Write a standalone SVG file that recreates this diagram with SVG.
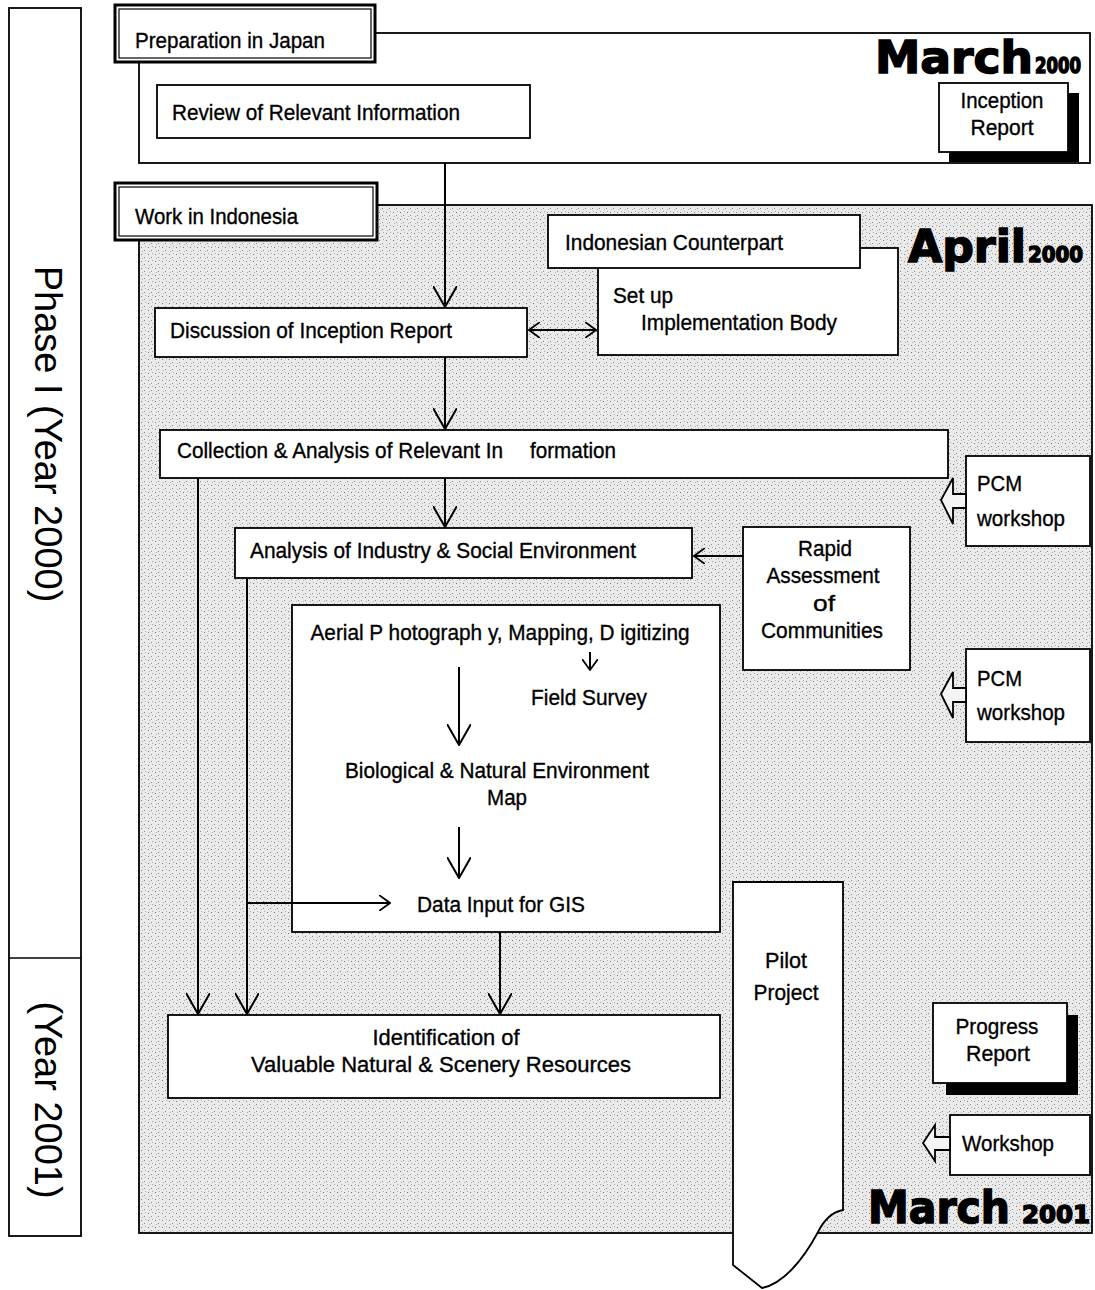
<svg xmlns="http://www.w3.org/2000/svg" width="1095" height="1290" viewBox="0 0 1095 1290">
<defs>
<pattern id="stip" width="7" height="7" patternUnits="userSpaceOnUse">
<rect width="7" height="7" fill="#eaeaea"/>
<rect x="1" y="2" width="1" height="1" fill="#7a7a7a"/>
<rect x="4" y="5" width="1" height="1" fill="#8a8a8a"/>
<rect x="5" y="1" width="1" height="1" fill="#a8a8a8"/>
<rect x="2" y="6" width="1" height="1" fill="#b0b0b0"/>
</pattern>
<marker id="vb" viewBox="0 0 22 24" refX="21" refY="12" markerWidth="22" markerHeight="24" markerUnits="userSpaceOnUse" orient="auto">
<path d="M0,0 L21,12 L0,24" fill="none" stroke="#000" stroke-width="2"/>
</marker>
<marker id="vs" viewBox="0 0 12 16" refX="11" refY="8" markerWidth="12" markerHeight="16" markerUnits="userSpaceOnUse" orient="auto-start-reverse">
<path d="M0,0 L11,8 L0,16" fill="none" stroke="#000" stroke-width="1.8"/>
</marker>
</defs>
<style>
.box{fill:#fff;stroke:#000;stroke-width:1.8}
.t{font-family:"Liberation Sans",Arial,sans-serif;font-size:22px;fill:#000;stroke:#000;stroke-width:0.35}
.tc{font-family:"Liberation Sans",Arial,sans-serif;font-size:22px;fill:#000;stroke:#000;stroke-width:0.35;text-anchor:middle}
.big{font-family:"DejaVu Sans",sans-serif;font-weight:bold;fill:#000;stroke:#000;stroke-width:1.5}
.ln{fill:none;stroke:#000;stroke-width:2}
.side{font-family:"Liberation Sans",Arial,sans-serif;font-size:38px;fill:#000;text-anchor:middle}
</style>
<rect width="1095" height="1290" fill="#fff"/>

<g id="phase-column">
<rect x="9" y="8" width="72" height="1228" fill="#fff" stroke="#000" stroke-width="1.8"/>
<line x1="9" y1="958" x2="81" y2="958" stroke="#000" stroke-width="1.5"/>
<text class="side" transform="translate(35,434) rotate(90)">Phase I (Year 2000)</text>
<text class="side" transform="translate(35,1100) rotate(90)">(Year 2001)</text>
</g>

<g id="japan-section">
<rect x="139" y="33" width="951" height="130" fill="#fff" stroke="#000" stroke-width="1.8"/>
</g>
<g id="prep-label">
<rect x="115" y="5" width="260" height="57" fill="#fff" stroke="#000" stroke-width="3"/>
<rect x="119" y="9" width="252" height="49" fill="none" stroke="#000" stroke-width="1.2"/>
<text class="t" x="135" y="48" textLength="190" lengthAdjust="spacingAndGlyphs">Preparation in Japan</text>
</g>
<g id="march2000">
<text class="big" x="875" y="73" font-size="44" textLength="158" lengthAdjust="spacingAndGlyphs">March</text>
<text class="big" x="1035" y="73" font-size="21" textLength="46" lengthAdjust="spacingAndGlyphs">2000</text>
</g>
<g id="inception-report">
<rect x="949" y="93" width="130" height="69" fill="#000"/>
<rect class="box" x="939" y="83" width="129" height="69"/>
<text class="tc" x="1002" y="108" textLength="83" lengthAdjust="spacingAndGlyphs">Inception</text>
<text class="tc" x="1002" y="135" textLength="63" lengthAdjust="spacingAndGlyphs">Report</text>
</g>
<g id="review">
<rect class="box" x="157" y="85" width="373" height="53"/>
<text class="t" x="172" y="120" textLength="288" lengthAdjust="spacingAndGlyphs">Review of Relevant Information</text>
</g>

<g id="indonesia-section">
<rect x="139" y="205" width="953" height="1028" fill="url(#stip)" stroke="#000" stroke-width="1.8"/>
</g>
<g id="work-label">
<rect x="115" y="183" width="262" height="57" fill="#fff" stroke="#000" stroke-width="3"/>
<rect x="119" y="187" width="254" height="49" fill="none" stroke="#000" stroke-width="1.2"/>
<text class="t" x="135" y="224" textLength="163" lengthAdjust="spacingAndGlyphs">Work in Indonesia</text>
</g>
<g id="april2000">
<text class="big" x="908" y="262" font-size="44" textLength="118" lengthAdjust="spacingAndGlyphs">April</text>
<text class="big" x="1028" y="262" font-size="22" textLength="55" lengthAdjust="spacingAndGlyphs">2000</text>
</g>

<g id="setup">
<rect class="box" x="598" y="248" width="300" height="107"/>
<text class="t" x="613" y="303" textLength="60" lengthAdjust="spacingAndGlyphs">Set up</text>
<text class="t" x="641" y="330" textLength="196" lengthAdjust="spacingAndGlyphs">Implementation Body</text>
</g>
<g id="counterpart">
<rect class="box" x="548" y="215" width="312" height="53"/>
<text class="t" x="565" y="250" textLength="218" lengthAdjust="spacingAndGlyphs">Indonesian Counterpart</text>
</g>
<g id="discussion">
<rect class="box" x="155" y="308" width="372" height="49"/>
<text class="t" x="170" y="338" textLength="282" lengthAdjust="spacingAndGlyphs">Discussion of Inception Report</text>
</g>
<g id="collection">
<rect class="box" x="160" y="430" width="788" height="48"/>
<text class="t" x="177" y="458" textLength="326" lengthAdjust="spacingAndGlyphs">Collection &amp; Analysis of Relevant In</text>
<text class="t" x="530" y="458" textLength="86" lengthAdjust="spacingAndGlyphs">formation</text>
</g>
<g id="analysis">
<rect class="box" x="235" y="528" width="457" height="50"/>
<text class="t" x="250" y="558" textLength="386" lengthAdjust="spacingAndGlyphs">Analysis of Industry &amp; Social Environment</text>
</g>
<g id="rapid">
<rect class="box" x="743" y="527" width="167" height="143"/>
<text class="tc" x="825" y="556" textLength="54" lengthAdjust="spacingAndGlyphs">Rapid</text>
<text class="tc" x="823" y="583" textLength="113" lengthAdjust="spacingAndGlyphs">Assessment</text>
<text class="tc" x="824" y="611" textLength="22" lengthAdjust="spacingAndGlyphs">of</text>
<text class="tc" x="822" y="638" textLength="122" lengthAdjust="spacingAndGlyphs">Communities</text>
</g>
<g id="pcm1">
<rect class="box" x="966" y="456" width="124" height="90"/>
<polygon points="941,500 953,478 953,494 966,494 966,508 953,508 953,524" fill="#f4f4f4" stroke="#000" stroke-width="1.8"/>
<text class="t" x="977" y="491" textLength="45" lengthAdjust="spacingAndGlyphs">PCM</text>
<text class="t" x="977" y="526" textLength="88" lengthAdjust="spacingAndGlyphs">workshop</text>
</g>
<g id="pcm2">
<rect class="box" x="966" y="649" width="124" height="93"/>
<polygon points="941,694 953,672 953,688 966,688 966,702 953,702 953,718" fill="#f4f4f4" stroke="#000" stroke-width="1.8"/>
<text class="t" x="977" y="686" textLength="45" lengthAdjust="spacingAndGlyphs">PCM</text>
<text class="t" x="977" y="720" textLength="88" lengthAdjust="spacingAndGlyphs">workshop</text>
</g>
<g id="aerial">
<rect class="box" x="292" y="605" width="428" height="327"/>
<text class="tc" x="500" y="640" textLength="379" lengthAdjust="spacingAndGlyphs">Aerial P hotograph y, Mapping, D igitizing</text>
<text class="tc" x="589" y="705" textLength="116" lengthAdjust="spacingAndGlyphs">Field Survey</text>
<text class="tc" x="497" y="778" textLength="304" lengthAdjust="spacingAndGlyphs">Biological &amp; Natural Environment</text>
<text class="tc" x="507" y="805" textLength="40" lengthAdjust="spacingAndGlyphs">Map</text>
<text class="tc" x="501" y="912" textLength="168" lengthAdjust="spacingAndGlyphs">Data Input for GIS</text>
</g>
<g id="identification">
<rect class="box" x="168" y="1015" width="552" height="83"/>
<text class="tc" x="446" y="1045" textLength="147" lengthAdjust="spacingAndGlyphs">Identification  of</text>
<text class="tc" x="441" y="1072" textLength="380" lengthAdjust="spacingAndGlyphs">Valuable  Natural  &amp;  Scenery  Resources</text>
</g>
<g id="pilot">
<path d="M733,882 H843 V1210 C832,1212 824,1220 818,1232 C802,1262 782,1284 762,1288 L733,1265 Z" fill="#fff" stroke="#000" stroke-width="1.8"/>
<text class="tc" x="786" y="968" textLength="42" lengthAdjust="spacingAndGlyphs">Pilot</text>
<text class="tc" x="786" y="1000" textLength="65" lengthAdjust="spacingAndGlyphs">Project</text>
</g>
<g id="progress-report">
<rect x="946" y="1015" width="132" height="80" fill="#000"/>
<rect class="box" x="933" y="1003" width="134" height="80"/>
<text class="tc" x="997" y="1034" textLength="83" lengthAdjust="spacingAndGlyphs">Progress</text>
<text class="tc" x="998" y="1061" textLength="64" lengthAdjust="spacingAndGlyphs">Report</text>
</g>
<g id="workshop">
<rect class="box" x="950" y="1115" width="140" height="60"/>
<polygon points="923,1143 935,1125 935,1137 950,1137 950,1150 935,1150 935,1161" fill="#f4f4f4" stroke="#000" stroke-width="1.8"/>
<text class="t" x="962" y="1151" textLength="92" lengthAdjust="spacingAndGlyphs">Workshop</text>
</g>
<g id="march2001">
<text class="big" x="868" y="1223" font-size="44" textLength="142" lengthAdjust="spacingAndGlyphs">March</text>
<text class="big" x="1022" y="1223" font-size="24" textLength="68" lengthAdjust="spacingAndGlyphs">2001</text>
</g>

<g id="connectors">
<line class="ln" x1="445" y1="163" x2="445" y2="307" marker-end="url(#vb)"/>
<line class="ln" x1="529" y1="330" x2="596" y2="330" marker-start="url(#vs)" marker-end="url(#vs)"/>
<line class="ln" x1="445" y1="357" x2="445" y2="429" marker-end="url(#vb)"/>
<line class="ln" x1="445" y1="478" x2="445" y2="527" marker-end="url(#vb)"/>
<line class="ln" x1="743" y1="556" x2="694" y2="556" marker-end="url(#vs)"/>
<line class="ln" x1="198" y1="478" x2="198" y2="1014" marker-end="url(#vb)"/>
<line class="ln" x1="247" y1="578" x2="247" y2="1014" marker-end="url(#vb)"/>
<line class="ln" x1="247" y1="903" x2="390" y2="903" marker-end="url(#vs)"/>
<line class="ln" x1="500" y1="932" x2="500" y2="1014" marker-end="url(#vb)"/>
<line class="ln" x1="590" y1="652" x2="590" y2="670" marker-end="url(#vs)"/>
<line class="ln" x1="459" y1="667" x2="459" y2="745" marker-end="url(#vb)"/>
<line class="ln" x1="459" y1="827" x2="459" y2="878" marker-end="url(#vb)"/>
</g>
</svg>
